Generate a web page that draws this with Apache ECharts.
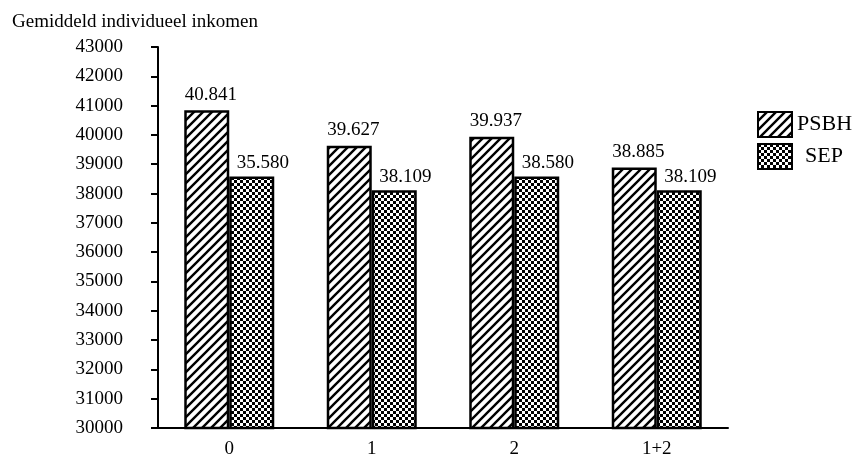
<!DOCTYPE html>
<html>
<head>
<meta charset="utf-8">
<script src="https://cdn.jsdelivr.net/npm/echarts@6/dist/echarts.min.js"></script>
<style>
html,body{margin:0;padding:0;background:#fff;}
#chart{width:860px;height:459px;}
</style>
</head>
<body>
<div id="chart"></div>
<script>
const categories = ['0', '1', '2', '1+2'];
const psbhValues = [40841, 39627, 39937, 38885];
const sepValues = [38580, 38109, 38580, 38109];
const psbhLabels = ['40.841', '39.627', '39.937', '38.885'];
const sepLabels = ['35.580', '38.109', '38.580', '38.109'];
const seriesNames = ['PSBH', 'SEP'];
const yTitle = 'Gemiddeld individueel inkomen';

function stripePattern() {
  const s = 9;
  const c = document.createElement('canvas');
  c.width = s; c.height = s;
  const g = c.getContext('2d');
  g.fillStyle = '#fff'; g.fillRect(0, 0, s, s);
  g.strokeStyle = '#000'; g.lineWidth = 2.4;
  g.beginPath();
  for (let k = -1; k <= 1; k++) {
    g.moveTo(k * s - 1, s + 1);
    g.lineTo(k * s + s + 1, -1);
  }
  g.stroke();
  return c;
}
function checkerPattern() {
  const cell = 3;
  const c = document.createElement('canvas');
  c.width = cell * 2; c.height = cell * 2;
  const g = c.getContext('2d');
  g.fillStyle = '#fff'; g.fillRect(0, 0, cell * 2, cell * 2);
  g.fillStyle = '#000';
  g.fillRect(0, 0, cell, cell);
  g.fillRect(cell, cell, cell, cell);
  return c;
}

const font = 'Liberation Serif';
const chart = echarts.init(document.getElementById('chart'), null, {renderer: 'canvas'});
chart.setOption({
  animation: false,
  backgroundColor: '#fff',
  title: {
    text: yTitle, left: 7, top: 8,
    textStyle: {fontFamily: font, fontSize: 19, fontWeight: 'normal', color: '#000'}
  },
  legend: {
    orient: 'vertical', left: 752, top: 106, itemGap: 5,
    itemWidth: 34, itemHeight: 25,
    icon: 'rect',
    data: [
      {name: seriesNames[0]},
      {name: seriesNames[1], textStyle: {padding: [0, 0, 0, 8]}}
    ],
    textStyle: {fontFamily: font, fontSize: 22, color: '#000'}
  },
  grid: {left: 158, right: 132, top: 47, bottom: 29, containLabel: false},
  xAxis: {
    type: 'category', data: categories,
    axisLine: {lineStyle: {color: '#000', width: 2}},
    axisTick: {alignWithLabel: true, length: 6, lineStyle: {color: '#000', width: 2}},
    axisLabel: {fontFamily: font, fontSize: 19, color: '#000', margin: 12}
  },
  yAxis: {
    type: 'value', min: 30000, max: 43000, interval: 1000,
    axisLine: {show: true, lineStyle: {color: '#000', width: 2}},
    axisTick: {show: true, length: 7, lineStyle: {color: '#000', width: 2}},
    splitLine: {show: false},
    axisLabel: {fontFamily: font, fontSize: 19, color: '#000', margin: 35, formatter: v => String(v)}
  },
  series: [
    {
      name: seriesNames[0], type: 'bar', data: psbhValues,
      barWidth: 45, barGap: '0%',
      itemStyle: {color: {image: stripePattern(), repeat: 'repeat'}, borderColor: '#000', borderWidth: 2.5},
      label: {
        show: true, position: 'top', offset: [4, 0], distance: 6,
        fontFamily: font, fontSize: 19, color: '#000',
        formatter: p => psbhLabels[p.dataIndex]
      }
    },
    {
      name: seriesNames[1], type: 'bar', data: sepValues,
      barWidth: 45, barGap: '0%',
      itemStyle: {color: {image: checkerPattern(), repeat: 'repeat'}, borderColor: '#000', borderWidth: 2.5},
      label: {
        show: true, position: 'top', offset: [11, 0], distance: 4,
        fontFamily: font, fontSize: 19, color: '#000',
        formatter: p => sepLabels[p.dataIndex]
      }
    }
  ]
});
</script>
</body>
</html>
